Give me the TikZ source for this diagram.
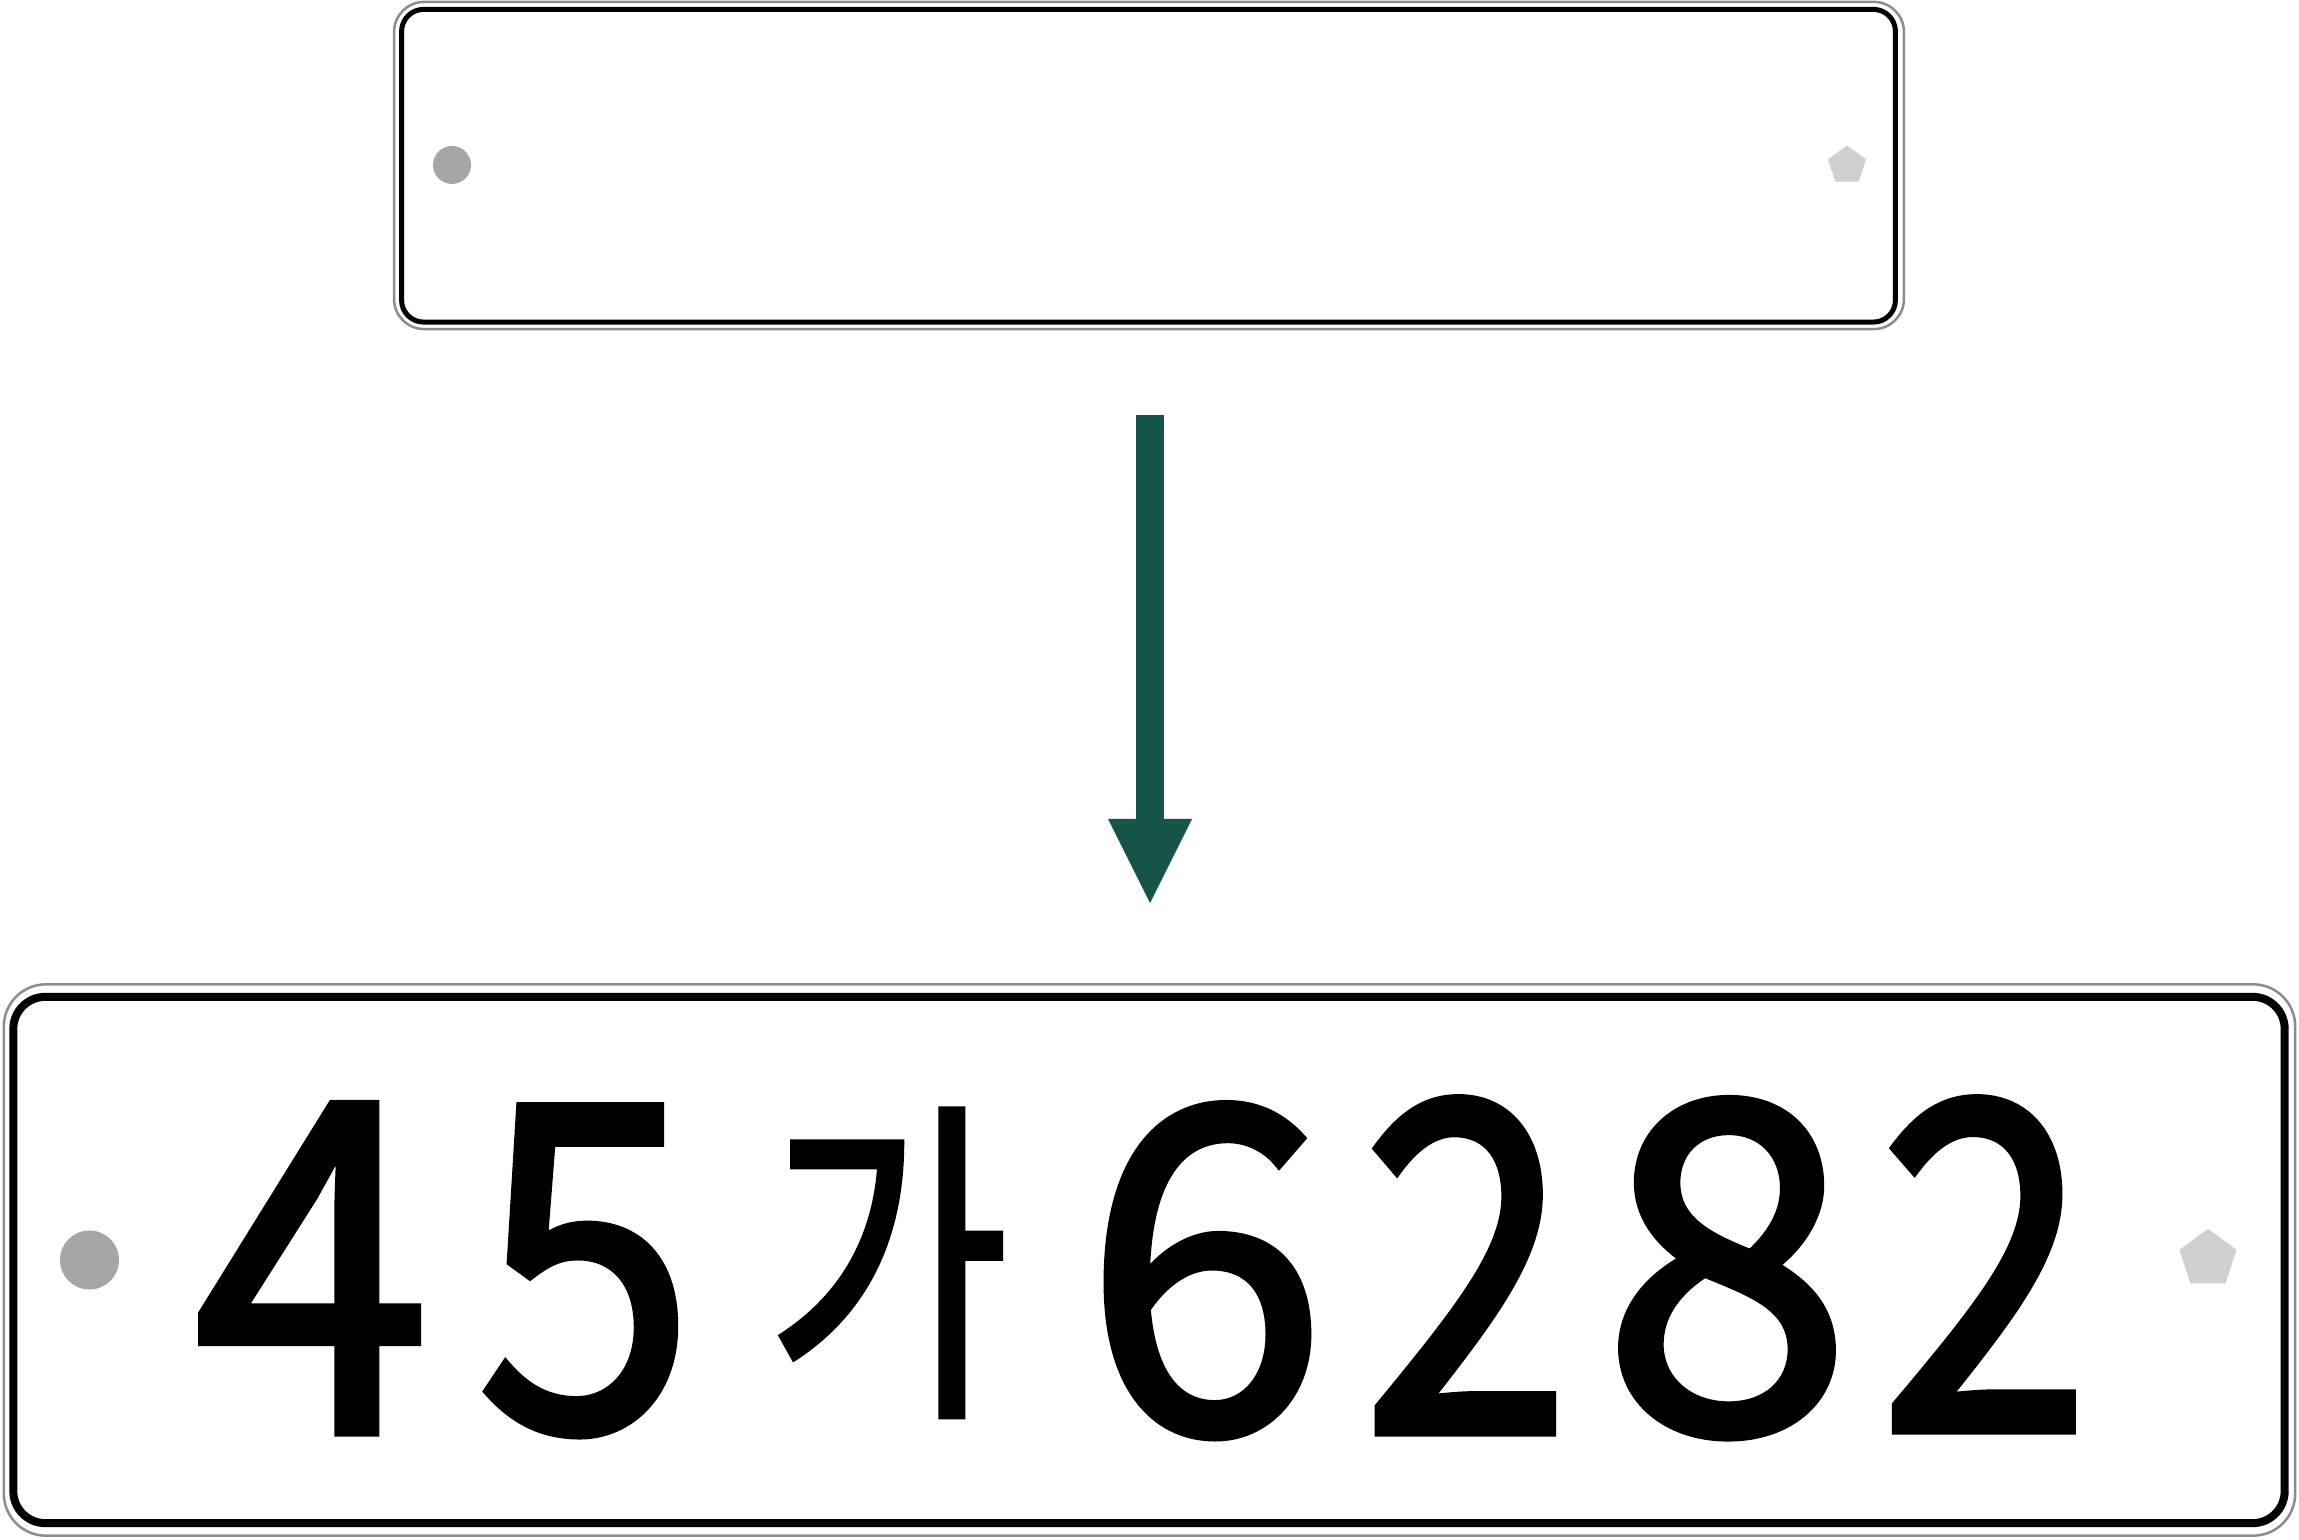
\documentclass[tikz,border=0pt]{standalone}
\usepackage{fontspec}
\newfontfamily\kr{Noto Sans CJK KR}[FakeBold=2]
\usetikzlibrary{shapes.geometric,arrows.meta}
\definecolor{arrowgreen}{RGB}{22,83,72}
\definecolor{holegray}{RGB}{168,165,165}
\definecolor{pentgray}{RGB}{208,208,208}
\definecolor{rimgray}{RGB}{140,140,140}
\tikzset{
  rim/.style={rectangle, draw=rimgray, line width=0.025cm, inner sep=0pt, outer sep=0pt},
  border/.style={rectangle, draw=black, inner sep=0pt, outer sep=0pt},
  hole/.style={circle, fill=holegray, inner sep=0pt},
  pent/.style={regular polygon, regular polygon sides=5, fill=pentgray, inner sep=0pt},
  glyph/.style={anchor=south, inner sep=0pt, outer sep=0pt},
  flow/.style={arrowgreen, line width=0.28cm, -{Triangle[width=0.84cm,length=0.84cm,line width=0pt]}}
}
\begin{document}
\begin{tikzpicture}[x=0.01cm,y=-0.01cm]
\fill[white] (0,0) rectangle (2299,1540);
\useasboundingbox (0,0) rectangle (2299,1540);
% top (blank) plate
\node[rim, minimum width=15.09cm, minimum height=3.27cm, rounded corners=0.3cm] (toprim) at (1149,165.5) {};
\node[border, line width=0.05cm, minimum width=14.93cm, minimum height=3.125cm, rounded corners=0.22cm] (topplate) at (1148.5,165.75) {};
\node[hole, minimum size=0.38cm] (tophole) at (452,165) {};
\node[pent, minimum size=0.40cm] (toppent) at (1847,165.5) {};
% bottom (numbered) plate
\node[rim, minimum width=22.90cm, minimum height=5.51cm, rounded corners=0.42cm] (botrim) at (1149.5,1260) {};
\node[border, line width=0.08cm, minimum width=22.70cm, minimum height=5.26cm, rounded corners=0.32cm] (botplate) at (1149,1260) {};
\node[hole, minimum size=0.59cm] (bothole) at (89.5,1260) {};
\node[pent, minimum size=0.60cm] (botpent) at (2208,1259) {};
% characters
\node[glyph] (g1) at (312,1432) {\resizebox*{2.36cm}{3.27cm}{\kr 4}};
\node[glyph] (g2) at (586,1435) {\resizebox*{2.18cm}{3.28cm}{\kr 5}};
\node[glyph] (g3) at (888,1416) {\resizebox*{2.41cm}{3.06cm}{\kr 가}};
\node[glyph] (g4) at (1205.5,1437) {\resizebox*{2.42cm}{3.32cm}{\kr 6}};
\node[glyph] (g5) at (1466.5,1432) {\resizebox*{2.09cm}{3.33cm}{\kr 2}};
\node[glyph] (g6) at (1727,1437) {\resizebox*{2.50cm}{3.37cm}{\kr 8}};
\node[glyph] (g7) at (1985,1430) {\resizebox*{2.12cm}{3.31cm}{\kr 2}};
% arrow
\coordinate (flowstart) at (1150,415);
\coordinate (flowend) at (1150,903);
\draw[flow] (flowstart) -- (flowend);
\end{tikzpicture}
\end{document}
